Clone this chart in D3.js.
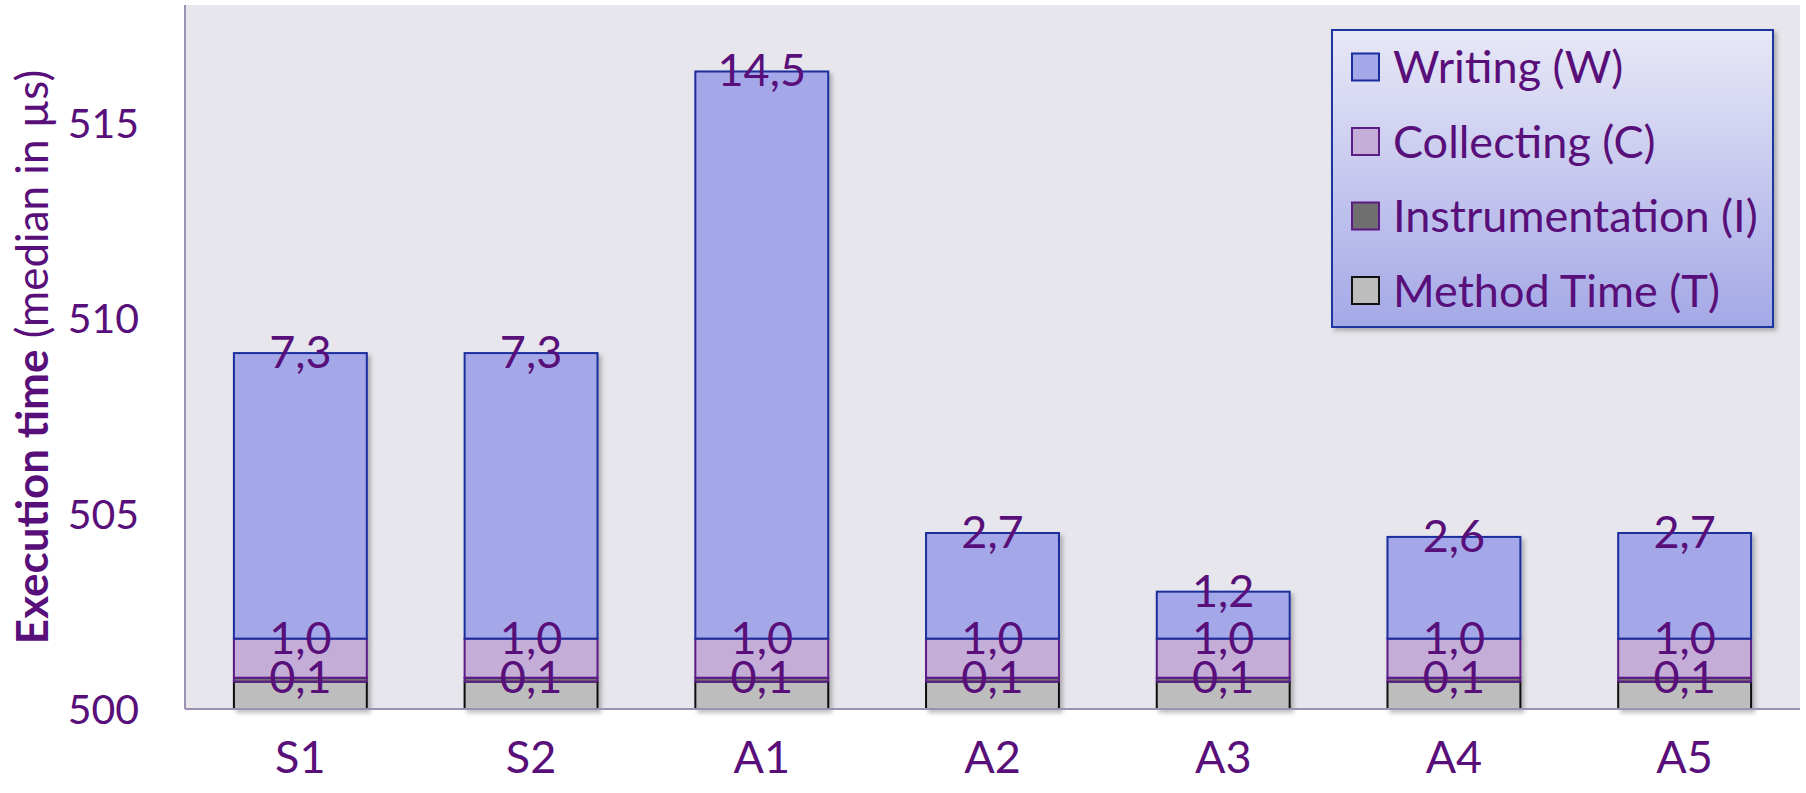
<!DOCTYPE html>
<html>
<head>
<meta charset="utf-8">
<script src="https://cdn.jsdelivr.net/npm/d3@7"></script>
<style>
  body { margin: 0; background: #fff; }
  svg text { font-family: "Lato", "Open Sans", sans-serif; fill: #580f7a; }
</style>
</head>
<body>
<div id="chart"></div>
<script>
// chart data
var categories = ["S1", "S2", "A1", "A2", "A3", "A4", "A5"];
var methodTime = [500.7, 500.7, 500.7, 500.7, 500.7, 500.7, 500.7];
var instrumentation = [0.1, 0.1, 0.1, 0.1, 0.1, 0.1, 0.1];
var collecting = [1.0, 1.0, 1.0, 1.0, 1.0, 1.0, 1.0];
var writing = [7.3, 7.3, 14.5, 2.7, 1.2, 2.6, 2.7];
var yTicks = [500, 505, 510, 515];
var seriesNames = ["Writing (W)", "Collecting (C)", "Instrumentation (I)", "Method Time (T)"];

var svgWidth = 1806, svgHeight = 793;
var plot = { left: 185, right: 1800, top: 5, bottom: 709 };
var fontSize = 45;

// segment styles (bottom to top)
var styles = {
  T: { fill: "#bdbdbd", stroke: "#111111" },
  I: { fill: "#6f6f6f", stroke: "#5c1a85" },
  C: { fill: "#c4aed8", stroke: "#5c1a85" },
  W: { fill: "#a5a8e8", stroke: "#1a2d9c" }
};

var svg = d3.select("#chart").append("svg")
  .attr("width", svgWidth)
  .attr("height", svgHeight);

var defs = svg.append("defs");
var shadow = defs.append("filter").attr("id", "shadow")
  .attr("x", "-10%").attr("y", "-10%").attr("width", "130%").attr("height", "130%");
shadow.append("feDropShadow")
  .attr("dx", 3).attr("dy", 3).attr("stdDeviation", 2)
  .attr("flood-color", "#000").attr("flood-opacity", 0.25);

var grad = defs.append("linearGradient").attr("id", "legendFill")
  .attr("x1", 0).attr("y1", 0).attr("x2", 0).attr("y2", 1);
grad.append("stop").attr("offset", "0%").attr("stop-color", "#e8e8f7");
grad.append("stop").attr("offset", "100%").attr("stop-color", "#a4a8e6");

// plot background
svg.append("rect")
  .attr("x", plot.left).attr("y", plot.top)
  .attr("width", plot.right - plot.left)
  .attr("height", plot.bottom - plot.top)
  .attr("fill", "#e6e6ec");

// scales
var x = d3.scaleBand()
  .domain(categories)
  .range([plot.left, plot.right])
  .paddingInner(0.424)
  .paddingOuter(0.212);

var y = d3.scaleLinear()
  .domain([500, 518])
  .range([plot.bottom, plot.top]);

// build stacked segments
var segments = [];
categories.forEach(function(c, i) {
  var t0 = 500, t1 = methodTime[i];
  var i1 = t1 + instrumentation[i];
  var c1 = i1 + collecting[i];
  var w1 = c1 + writing[i];
  segments.push({ cat: c, key: "T", y0: t0, y1: t1, value: null });
  segments.push({ cat: c, key: "I", y0: t1, y1: i1, value: instrumentation[i] });
  segments.push({ cat: c, key: "C", y0: i1, y1: c1, value: collecting[i] });
  segments.push({ cat: c, key: "W", y0: c1, y1: w1, value: writing[i] });
});

var bars = svg.append("g").attr("filter", "url(#shadow)");
bars.selectAll("rect")
  .data(segments)
  .enter()
  .append("rect")
  .attr("x", d => x(d.cat))
  .attr("y", d => y(d.y1))
  .attr("width", x.bandwidth())
  .attr("height", d => y(d.y0) - y(d.y1))
  .attr("fill", d => styles[d.key].fill)
  .attr("stroke", d => styles[d.key].stroke)
  .attr("stroke-width", 2);

// axis lines (left and bottom)
svg.append("line")
  .attr("x1", plot.left).attr("x2", plot.left)
  .attr("y1", plot.top).attr("y2", plot.bottom)
  .attr("stroke", "#9d91b3").attr("stroke-width", 2);
svg.append("line")
  .attr("x1", plot.left).attr("x2", plot.right)
  .attr("y1", plot.bottom).attr("y2", plot.bottom)
  .attr("stroke", "#9d91b3").attr("stroke-width", 2);

// data labels
var fmt = function(v) { return d3.format(".1f")(v).replace(".", ","); };
svg.append("g").selectAll("text")
  .data(segments.filter(d => d.value !== null))
  .enter()
  .append("text")
  .attr("x", d => x(d.cat) + x.bandwidth() / 2)
  .attr("y", d => y(d.y1) + 15)
  .attr("text-anchor", "middle")
  .attr("font-size", fontSize)
  .text(d => fmt(d.value));

// y axis (labels only)
var yAxis = svg.append("g")
  .attr("transform", "translate(" + plot.left + ",0)")
  .call(d3.axisLeft(y).tickValues(yTicks).tickSize(0).tickPadding(46));
yAxis.select(".domain").remove();
yAxis.selectAll("text")
  .attr("font-size", 41)
  .attr("dy", "0.36em")
  .style("font-family", null);

// x axis (labels only)
var xAxis = svg.append("g")
  .attr("transform", "translate(0," + plot.bottom + ")")
  .call(d3.axisBottom(x).tickSize(0).tickPadding(48));
xAxis.select(".domain").remove();
xAxis.selectAll("text")
  .attr("font-size", fontSize)
  .attr("dy", "0.36em")
  .style("font-family", null);

// y axis title
var title = svg.append("text")
  .attr("transform", "translate(48," + ((plot.top + plot.bottom) / 2) + ") rotate(-90)")
  .attr("text-anchor", "middle")
  .attr("font-size", 44);
title.append("tspan").attr("font-weight", "bold").text("Execution time");
title.append("tspan").text(" (median in \u00b5s)");

// legend
var legend = svg.append("g").attr("transform", "translate(1332,30)");
legend.append("rect")
  .attr("width", 441).attr("height", 297)
  .attr("fill", "url(#legendFill)")
  .attr("stroke", "#1f35a0").attr("stroke-width", 2)
  .attr("filter", "url(#shadow)");

var legendKeys = ["W", "C", "I", "T"];
var item = legend.selectAll(".item")
  .data(legendKeys)
  .enter()
  .append("g")
  .attr("class", "item")
  .attr("transform", (d, i) => "translate(20," + (37 + i * 74.5) + ")");
item.append("rect")
  .attr("x", 0).attr("y", -13.5)
  .attr("width", 27).attr("height", 27)
  .attr("fill", d => styles[d].fill)
  .attr("stroke", d => styles[d].stroke)
  .attr("stroke-width", 2);
item.append("text")
  .attr("x", 41).attr("y", 16)
  .attr("font-size", 45)
  .text((d, i) => seriesNames[i]);
</script>
</body>
</html>
